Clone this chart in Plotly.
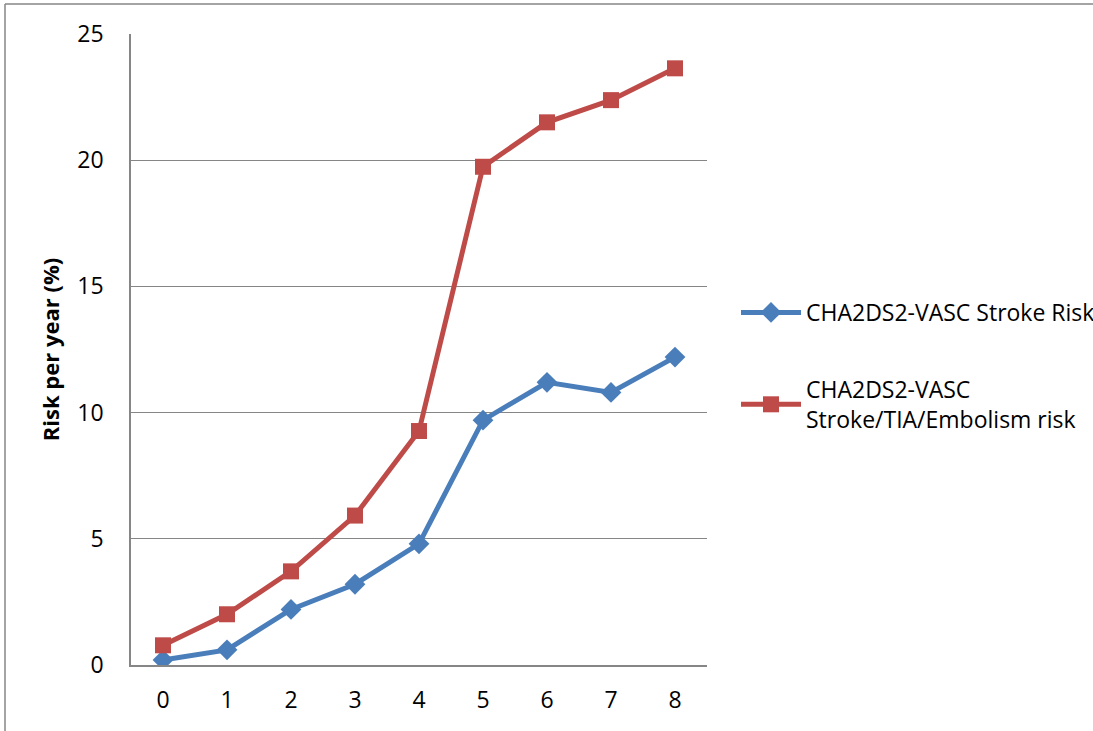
import plotly.graph_objects as go

scores = ["0", "1", "2", "3", "4", "5", "6", "7", "8"]
stroke_risk = [0.2, 0.6, 2.2, 3.2, 4.8, 9.7, 11.2, 10.8, 12.2]
stroke_tia_embolism = [0.78, 2.01, 3.71, 5.92, 9.27, 19.74, 21.5, 22.38, 23.64]
y_ticks = [0, 5, 10, 15, 20, 25]

FONT = "Open Sans"
GRID = "#868686"
W, H = 1160, 731
L, R, T, B = 131, 707, 34, 665

fig = go.Figure()
fig.add_trace(go.Scatter(
    x=scores, y=stroke_risk, mode="lines+markers",
    name="CHA2DS2-VASC Stroke Risk", legendgroup="a",
    line=dict(color="#4A7EBB", width=5),
    marker=dict(symbol="diamond", size=16, color="#4A7EBB"),
))
fig.add_trace(go.Scatter(
    x=scores, y=stroke_tia_embolism, mode="lines+markers",
    name="CHA2DS2-VASC<br>Stroke/TIA/Embolism risk", legendgroup="b",
    line=dict(color="#BE4B48", width=5),
    marker=dict(symbol="square", size=16, color="#BE4B48"),
))

pw, ph = R - L, B - T
def px(x):
    return (x - L) / pw
def py(y):
    return (B - y) / ph

fig.add_shape(type="line", xref="paper", yref="paper",
              x0=px(5), x1=px(W), y0=py(4), y1=py(4),
              line=dict(color=GRID, width=1.5))
fig.add_shape(type="line", xref="paper", yref="paper",
              x0=px(5), x1=px(5), y0=py(4), y1=py(H),
              line=dict(color=GRID, width=1.5))

fig.update_layout(
    width=W, height=H,
    margin=dict(l=L, r=W - R, t=T, b=H - B),
    paper_bgcolor="white", plot_bgcolor="white",
    font=dict(family=FONT, color="black", size=23),
    showlegend=True,
    legend=dict(x=px(736), y=py(291), xanchor="left", yanchor="top",
                font=dict(family=FONT, size=23), traceorder="grouped",
                tracegroupgap=44, bgcolor="rgba(0,0,0,0)", itemwidth=60),
    xaxis=dict(type="category", range=[-0.5, 8.5], showgrid=False,
               showline=True, linecolor=GRID, linewidth=1.5,
               ticks="", tickfont=dict(size=23), ticklabelstandoff=14),
    yaxis=dict(range=[0, 25], tickvals=y_ticks, showgrid=True,
               gridcolor=GRID, gridwidth=1, showline=True, linecolor=GRID,
               linewidth=1.5, zeroline=False, ticks="",
               tickfont=dict(size=23), ticklabelstandoff=21,
               title=dict(text="<b>Risk per year (%)</b>",
                          font=dict(size=22), standoff=12)),
)
fig.write_html("out.html",
               config={"displayModeBar": False},
               post_script="document.body.style.margin='0';"
                           "document.body.style.overflow='hidden';")
